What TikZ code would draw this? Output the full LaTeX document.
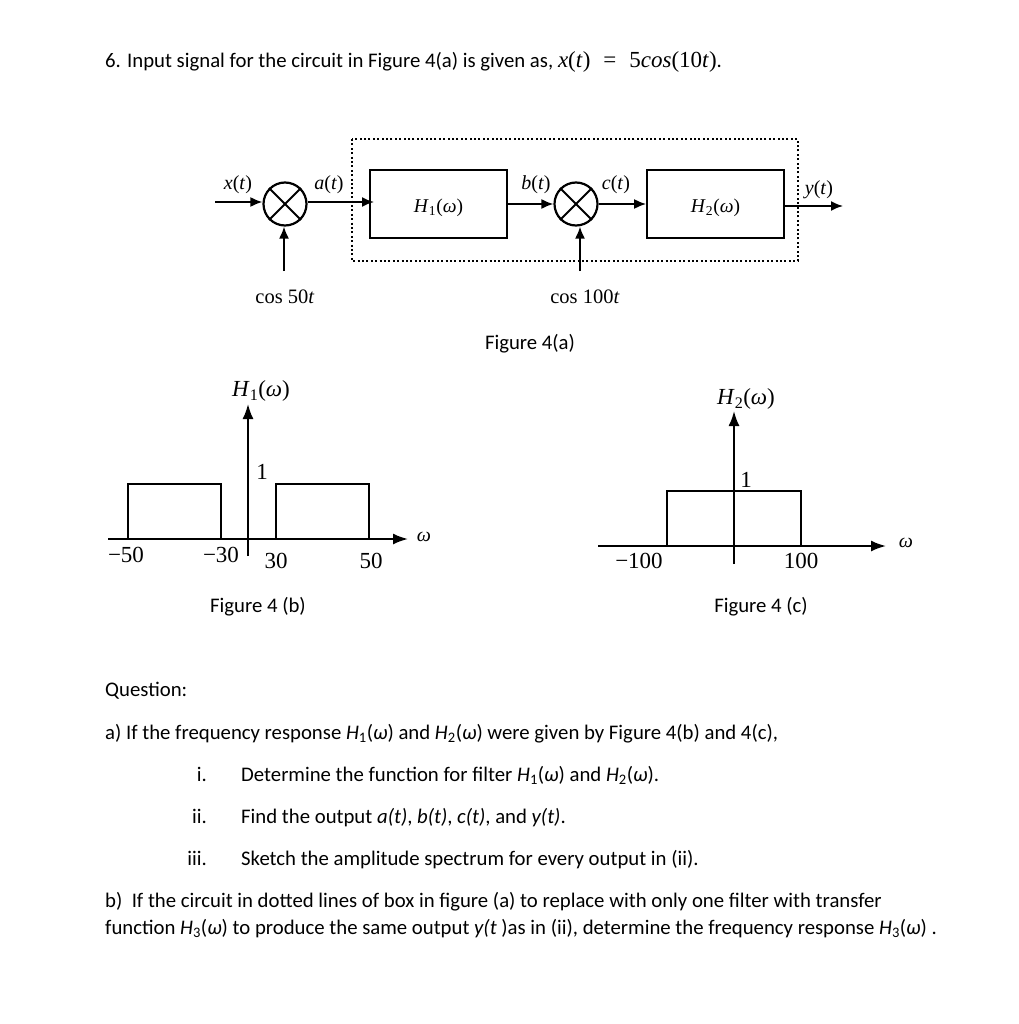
\documentclass[tikz,border=0pt]{standalone}
\usepackage{fontspec}
\setmainfont{Carlito}
\newfontfamily\mfont{Liberation Serif}
\usetikzlibrary{arrows.meta}

\tikzstyle{line} = [line width=1.8pt]
\tikzstyle{sig} = [line width=1.8pt, -{Latex[length=12pt,width=10pt]}]
\tikzstyle{axis} = [line width=2pt, -{Latex[length=15pt,width=11pt]}]
\tikzstyle{block} = [rectangle, draw, line width=1.8pt, minimum width=137pt, minimum height=68pt, inner sep=0pt, text depth=0pt, font=\mfont\fontsize{19.5}{20}\selectfont]
\tikzstyle{mixer} = [circle, draw, line width=2.2pt, minimum size=43pt, inner sep=0pt]
\tikzstyle{pulse} = [rectangle, draw, line width=2pt, inner sep=0pt]
\tikzstyle{lab} = [inner sep=0pt, font=\mfont\fontsize{20}{21}\selectfont]
\tikzstyle{big} = [inner sep=0pt, font=\mfont\fontsize{23}{25}\selectfont]
\tikzstyle{txt} = [inner sep=0pt, anchor=base west, font=\fontsize{20.75}{24}\selectfont]
\tikzstyle{figcap} = [inner sep=0pt, anchor=base, font=\fontsize{20.75}{24}\selectfont]

\newcommand{\Hw}[1]{\textit{H}\textsubscript{#1}(\textit{ω})}

\begin{document}
\begin{tikzpicture}[x=1pt,y=-1pt]
\useasboundingbox (0,0) rectangle (1018,1024);

% question
\node[txt] (title) at (105,68) {6. Input signal for the circuit in Figure 4(a) is given as, {\mfont\fontsize{23}{24}\selectfont\textit{x}(\textit{t})\hspace{13pt}=\hspace{13pt}5\textit{cos}(10\textit{t})}.};

% figure 4(a)
\node[mixer] (mixa) at (285,204) {};
\node[mixer] (mixb) at (576,204) {};
\node[block] (hone) at (438.5,204) {\raisebox{-2.5pt}{\Hw{1}}};
\node[block] (htwo) at (715.5,204) {\raisebox{-2.5pt}{\Hw{2}}};
\draw[line width=1.8pt, dash pattern=on 2pt off 2.4pt] (352,139) rectangle (798,261);
\foreach \m in {mixa,mixb} {
    \draw[line] (\m.north west) -- (\m.south east);
    \draw[line] (\m.north east) -- (\m.south west);
}
\coordinate (xin) at (215,202);
\coordinate (aend) at (374,202);
\coordinate (yout) at (843,206);
\coordinate (cosa) at (284,271);
\coordinate (cosb) at (580,271);
\draw[sig] (xin) -- (mixa.west |- xin);
\draw[sig] (mixa.east |- aend) -- (aend);
\draw[sig] (hone.east |- mixb) -- (mixb.west);
\draw[sig] (mixb.east) -- (htwo.west);
\draw[sig] (htwo.east |- yout) -- (yout);
\draw[sig] (cosa) -- (cosa |- mixa.south);
\draw[sig] (cosb) -- (cosb |- mixb.south);
\node[lab] (xlab) at (238,185) {\textit{x}(\textit{t})};
\node[lab] (alab) at (329,185) {\textit{a}(\textit{t})};
\node[lab] (blab) at (536,185) {\textit{b}(\textit{t})};
\node[lab] (clab) at (616,185) {\textit{c}(\textit{t})};
\node[lab] (ylab) at (819,190) {\textit{y}(\textit{t})};
\node[lab, font=\mfont\fontsize{20.5}{21}\selectfont] (cosal) at (285,297) {cos 50\textit{t}};
\node[lab, font=\mfont\fontsize{20.5}{21}\selectfont] (cosbl) at (585,297) {cos 100\textit{t}};
\node[figcap] (capa) at (530,349) {Figure 4(a)};

% figure 4(b)
\node[pulse, minimum width=93pt, minimum height=55pt] (pleft) at (174.5,511.5) {};
\node[pulse, minimum width=93pt, minimum height=55pt] (pright) at (322.5,511.5) {};
\coordinate (bxl) at (108,539);
\coordinate (bxr) at (408,539);
\coordinate (byb) at (248,556);
\coordinate (byt) at (248,404);
\draw[axis] (bxl) -- (bxr);
\draw[axis] (byb) -- (byt);
\node[big] (bhlab) at (261,391) {\Hw{1}};
\node[lab] (bwlab) at (424,537) {\textit{ω}};
\node[big] (bone) at (262,472) {1};
\node[big] (bma) at (126,555) {−50};
\node[big] (bmb) at (221,555) {−30};
\node[big] (bpa) at (276,561) {30};
\node[big] (bpb) at (371,561) {50};
\node[figcap] (capb) at (258,612) {Figure 4 (b)};

% figure 4(c)
\node[pulse, minimum width=134pt, minimum height=55pt] (pmid) at (734,518.5) {};
\coordinate (cxl) at (598,546);
\coordinate (cxr) at (886,546);
\coordinate (cyb) at (734,564);
\coordinate (cyt) at (734,411);
\draw[axis] (cxl) -- (cxr);
\draw[axis] (cyb) -- (cyt);
\node[big] (chlab) at (746,399) {\Hw{2}};
\node[lab] (cwlab) at (906,543) {\textit{ω}};
\node[big] (cone) at (746,480) {1};
\node[big] (cma) at (639,561) {−100};
\node[big] (cpa) at (801,561) {100};
\node[figcap] (capc) at (761,612) {Figure 4 (c)};

% parts
\node[txt] (quest) at (105,696) {Question:};
\node[txt] (parta) at (105,739) {a) If the frequency response \Hw{1} and \Hw{2} were given by Figure 4(b) and 4(c),};
\node[txt, anchor=base east] (noi) at (207,781) {i.};
\node[txt] (itemi) at (241,781) {Determine the function for filter \Hw{1} and \Hw{2}.};
\node[txt, anchor=base east] (noii) at (207,823) {ii.};
\node[txt] (itemii) at (241,823) {Find the output \textit{a(t)}, \textit{b(t)}, \textit{c(t)}, and \textit{y(t)}.};
\node[txt, anchor=base east] (noiii) at (207,865) {iii.};
\node[txt] (itemiii) at (241,865) {Sketch the amplitude spectrum for every output in (ii).};
\node[txt] (partb) at (105,907) {b)\ \ If the circuit in dotted lines of box in figure (a) to replace with only one filter with transfer};
\node[txt] (partc) at (105,934) {function \Hw{3} to produce the same output \textit{y(t} )as in (ii), determine the frequency response \Hw{3} .};
\end{tikzpicture}
\end{document}
